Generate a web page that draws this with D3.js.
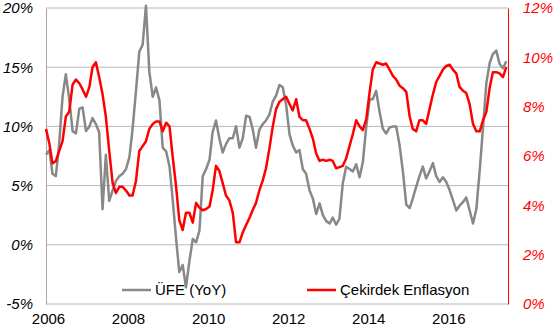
<!DOCTYPE html>
<html>
<head>
<meta charset="utf-8">
<script src="https://cdn.jsdelivr.net/npm/d3@7"></script>
<style>
  html, body { margin: 0; padding: 0; background: #fff; }
  svg { display: block; font-family: "Liberation Sans", Arial, sans-serif; }
</style>
</head>
<body>
<svg id="chart" width="555" height="333"></svg>
<script>
// monthly values, Jan 2006 .. Jul 2017
const ufe = [
    7.6, 8.0, 6.0, 5.8, 8.5, 12.5, 14.4, 12.3, 9.6, 9.4, 11.5, 11.6,   // 2006
    9.6, 10.0, 10.7, 10.2, 9.5, 3.0, 7.6, 3.7, 4.6, 5.4, 5.8, 6.0,     // 2007
    6.4, 7.4, 9.8, 13.0, 16.3, 16.9, 20.2, 14.6, 12.5, 13.3, 12.2, 8.2, // 2008
    7.9, 6.6, 3.9, 0.6, -2.3, -1.7, -3.6, -1.4, 0.5, 0.2, 1.2, 5.8,   // 2009
    6.4, 7.2, 9.5, 10.5, 9.0, 7.8, 8.5, 9.0, 9.0, 10.0, 8.2, 9.0,     // 2010
    10.9, 10.8, 9.8, 8.2, 9.7, 10.2, 10.5, 11.0, 12.1, 12.6, 13.5, 13.3, // 2011
    11.8, 9.3, 8.4, 7.8, 8.0, 6.4, 6.0, 4.6, 3.9, 2.6, 3.5, 2.5,      // 2012
    2.0, 1.8, 2.3, 1.7, 2.2, 5.2, 6.6, 6.4, 6.2, 6.8, 5.7, 7.0,       // 2013
    10.0, 12.3, 12.3, 13.0, 11.3, 9.8, 9.4, 9.9, 10.0, 10.0, 8.4, 6.2, // 2014
    3.4, 3.1, 3.9, 4.9, 5.8, 6.6, 5.6, 6.2, 6.9, 5.8, 5.3, 5.7,       // 2015
    5.3, 4.6, 3.8, 2.9, 3.3, 3.6, 4.0, 2.9, 1.8, 3.0, 6.3, 9.9,       // 2016
    13.7, 15.4, 16.1, 16.4, 15.3, 14.9, 15.5                          // 2017
];
const cekirdek = [
    7.1, 6.5, 5.7, 5.8, 6.2, 6.6, 7.6, 7.8, 8.9, 9.1, 8.95, 8.7,      // 2006
    8.4, 8.8, 9.6, 9.8, 9.2, 8.5, 7.6, 6.2, 4.9, 4.5, 4.75, 4.75,     // 2007
    4.6, 4.4, 4.4, 5.0, 6.2, 6.4, 6.6, 7.1, 7.3, 7.4, 7.4, 7.0,       // 2008
    7.35, 7.2, 6.0, 4.8, 3.4, 3.0, 3.7, 3.7, 3.3, 4.1, 3.9, 3.8,      // 2009
    3.85, 3.95, 4.6, 5.6, 5.4, 4.9, 4.4, 4.2, 3.7, 2.5, 2.5, 2.9,     // 2010
    3.2, 3.5, 3.8, 4.1, 4.6, 5.0, 5.5, 6.3, 7.2, 7.9, 8.2, 8.3,       // 2011
    8.4, 8.1, 7.85, 8.3, 7.6, 7.45, 7.45, 7.1, 6.7, 6.1, 5.8, 5.85,   // 2012
    5.8, 5.85, 5.8, 5.5, 5.55, 5.6, 5.9, 6.4, 6.9, 7.45, 7.2, 7.05,   // 2013
    7.5, 8.6, 9.5, 9.8, 9.75, 9.7, 9.75, 9.5, 9.25, 9.1, 8.85, 8.75,  // 2014
    8.6, 7.6, 7.1, 7.0, 7.45, 7.45, 7.3, 7.9, 8.5, 9.0, 9.25, 9.5,    // 2015
    9.65, 9.7, 9.5, 9.35, 8.8, 8.65, 8.55, 8.1, 7.3, 7.0, 7.0, 7.45,  // 2016
    7.8, 8.8, 9.4, 9.4, 9.35, 9.2, 9.6                                // 2017
];
const yearTicks = [2006, 2008, 2010, 2012, 2014, 2016];
const leftTicks = [-5, 0, 5, 10, 15, 20];
const rightTicks = [0, 2, 4, 6, 8, 10, 12];
const legendNames = ['ÜFE (YoY)', 'Çekirdek Enflasyon'];

const svg = d3.select('#chart');
const plotL = 46, plotR = 508, plotT = 8, plotB = 304;
const grey = '#888888', red = '#ff0000';

const x = d3.scaleTime()
    .domain([new Date(2006, 0, 1), new Date(2017, 6, 17)])
    .range([plotL, plotR]);
const yL = d3.scaleLinear().domain([-5, 20]).range([plotB, plotT]);
const yR = d3.scaleLinear().domain([0, 12]).range([plotB, plotT]);

const date = i => new Date(2006, i, 1);

// grid
svg.append('g')
    .selectAll('line')
    .data(leftTicks)
    .enter()
    .append('line')
    .attr('x1', plotL).attr('x2', plotR)
    .attr('y1', d => yL(d)).attr('y2', d => yL(d))
    .style('stroke', '#b8b8b8')
    .style('stroke-width', '1px');

// left axis
const axL = svg.append('g')
    .attr('transform', 'translate(' + plotL + ',0)')
    .call(d3.axisLeft(yL).tickValues(leftTicks).tickSize(0).tickPadding(13).tickFormat(d => d + '%'));
axL.select('.domain').style('stroke', '#a6a6a6');
axL.selectAll('text')
    .style('font-size', '15px')
    .style('font-style', 'italic')
    .style('fill', '#000')
    .style('font-family', '"Liberation Sans", Arial, sans-serif');

// right axis
const axR = svg.append('g')
    .attr('transform', 'translate(' + plotR + ',0)')
    .call(d3.axisRight(yR).tickValues(rightTicks).tickSize(0).tickPadding(15).tickFormat(d => d + '%'));
axR.select('.domain').style('stroke', red);
axR.selectAll('text')
    .style('font-size', '15px')
    .style('font-style', 'italic')
    .style('fill', red)
    .style('font-family', '"Liberation Sans", Arial, sans-serif');

// bottom axis
const axB = svg.append('g')
    .attr('transform', 'translate(2,' + plotB + ')')
    .call(d3.axisBottom(x).tickValues(yearTicks.map(y => new Date(y, 0, 1))).tickSize(0).tickPadding(9).tickFormat(d3.timeFormat('%Y')));
axB.select('.domain').remove();
axB.selectAll('text')
    .style('font-size', '15px')
    .style('fill', '#000')
    .style('font-family', '"Liberation Sans", Arial, sans-serif');

// lines
const lineL = d3.line().x((d, i) => x(date(i))).y(d => yL(d));
const lineR = d3.line().x((d, i) => x(date(i))).y(d => yR(d));

svg.append('path')
    .datum(ufe)
    .attr('d', lineL)
    .style('fill', 'none')
    .style('stroke', grey)
    .style('stroke-width', '2.5px')
    .style('stroke-linejoin', 'round');

svg.append('path')
    .datum(cekirdek)
    .attr('d', lineR)
    .style('fill', 'none')
    .style('stroke', red)
    .style('stroke-width', '2.5px')
    .style('stroke-linejoin', 'round');

// legend
const legend = [
    { name: legendNames[0], color: grey, x: 122 },
    { name: legendNames[1], color: red, x: 307 }
];
const lg = svg.append('g')
    .selectAll('g')
    .data(legend)
    .enter()
    .append('g')
    .attr('transform', d => 'translate(' + d.x + ',290)');
lg.append('line')
    .attr('x1', 0).attr('x2', 29)
    .style('stroke', d => d.color)
    .style('stroke-width', '2.5px');
lg.append('text')
    .attr('x', 33)
    .attr('dy', '0.35em')
    .text(d => d.name)
    .style('font-size', '15px')
    .style('fill', '#000');
</script>
</body>
</html>
